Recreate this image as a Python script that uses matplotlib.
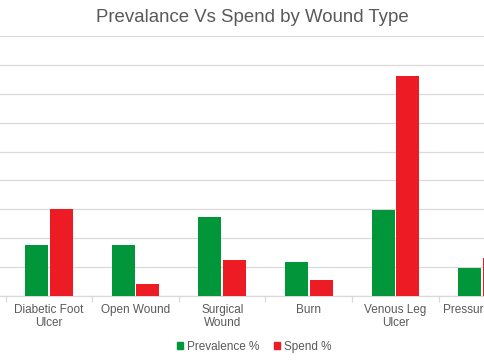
import numpy as np
import matplotlib
matplotlib.use("Agg")
from matplotlib import pyplot as plt
from matplotlib.patches import Patch

# wound types and the two series (percent)
categories = ["Diabetic Foot\nUlcer", "Open Wound", "Surgical\nWound", "Burn",
              "Venous Leg\nUlcer", "Pressure Ulcer"]
prevalence = [8.8, 8.8, 13.7, 5.8, 14.8, 4.8]
spend = [15.0, 2.0, 6.3, 2.8, 38.1, 6.5]

green = "#009639"
red = "#ed1c24"
grey_text = "#595959"
grid_col = "#d9d9d9"

plt.rcParams["font.family"] = ["Liberation Sans", "DejaVu Sans"]

fig = plt.figure(figsize=(4.85, 3.6), dpi=100)
# the picture is a crop of a wider chart, so the axes run past both edges
ax = fig.add_axes([0, 64 / 360, 1, 260 / 360])

x = np.arange(len(categories))
w = 0.265
ax.bar(x - 0.142, prevalence, w, color=green, label="Prevalence %", zorder=3)
ax.bar(x + 0.142, spend, w, color=red, label="Spend %", zorder=3)

ax.set_yticks(np.arange(0, 46, 5))
ax.yaxis.grid(True, color=grid_col, lw=0.9, zorder=0)
ax.tick_params(axis="y", left=False, labelleft=False)

ax.set_xticks(x)
ax.set_xticklabels(categories, fontsize=8.5, color=grey_text, linespacing=1.05)
ax.set_xticks(np.arange(-0.5, len(categories) + 0.5, 1), minor=True)
ax.tick_params(axis="x", which="major", length=0, pad=6)
ax.tick_params(axis="x", which="minor", length=4, color=grid_col, width=0.9)

# limits last, so the ticks do not widen them
cat_px = 86.6
left = -0.5 - 5.7 / cat_px
ax.set_xlim(left, left + 485 / cat_px)
ax.set_ylim(0, 45)

for s in ["top", "right", "left"]:
    ax.spines[s].set_visible(False)
ax.spines["bottom"].set_color(grid_col)
ax.spines["bottom"].set_linewidth(0.9)

fig.text(252 / 485, 1 - 18 / 360, "Prevalance Vs Spend by Wound Type",
         ha="center", va="center", fontsize=13.4, color=grey_text)

handles = [Patch(color=green, label="Prevalence %"), Patch(color=red, label="Spend %")]
fig.legend(handles=handles, loc="center", bbox_to_anchor=(254 / 485, 1 - 347 / 360),
           ncol=2, frameon=False, fontsize=8.5, labelcolor=grey_text,
           handlelength=0.55, handleheight=0.55, handletextpad=0.3, columnspacing=1.2)

fig.savefig("out.png", dpi=100)
